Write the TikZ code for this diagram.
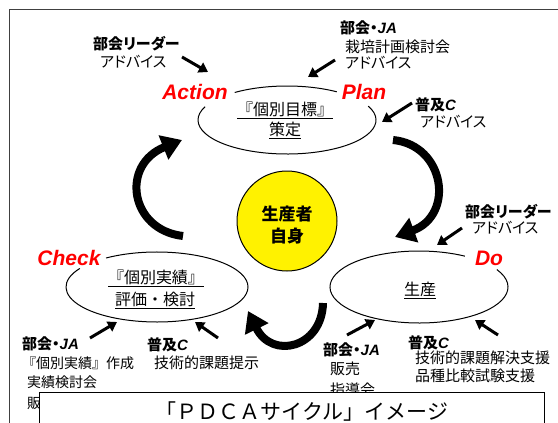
\documentclass[tikz,border=0pt]{standalone}
\usepackage{fontspec}
\usetikzlibrary{arrows.meta}
\newfontfamily\jp[RawFeature={+palt}]{Noto Sans CJK JP}
\newfontfamily\jpn{Noto Sans CJK JP}
\newfontfamily\lat{Liberation Sans}
\tikzset{
  txt/.style={font=\jp\fontsize{15}{17}\selectfont, inner sep=0pt, anchor=west},
  txtn/.style={font=\jpn\fontsize{14}{16}\selectfont, inner sep=0pt, anchor=west},
  btxt/.style={font=\jp\bfseries\fontsize{15}{17}\selectfont, inner sep=0pt, anchor=west},
  elltxt/.style={font=\jpn\fontsize{16}{18}\selectfont, inner sep=0pt},
  pdca/.style={font=\lat\bfseries\itshape\fontsize{21}{24}\selectfont, text=red, inner sep=0pt},
  sarr/.style={line width=3pt, -{Triangle[length=9pt,width=11pt]}},
  barr/.style={line width=8pt, -{Triangle[length=20pt,width=25pt]}},
  ell/.style={line width=1pt},
}
\newcommand{\latbi}[1]{{\lat\bfseries\itshape #1}}
\begin{document}
\begin{tikzpicture}[x=1pt,y=-1pt]
\useasboundingbox (0,0) rectangle (558,423);
\fill[white] (0,0) rectangle (558,423);
% outer frame
\draw[black!75, line width=1pt] (9.5,423) -- (9.5,9.5) -- (558,9.5);

% ---------- ellipses ----------
\coordinate (eP) at (287,120);
\coordinate (eC) at (157,287);
\coordinate (eD) at (419,287);
\draw[ell] (eP) ++(234:89 and 34) arc[start angle=234, end angle=304, x radius=89, y radius=34];
\draw[ell] (eP) ++(-24:89 and 34) arc[start angle=-24, end angle=203, x radius=89, y radius=34];
\draw[ell] (eC) ++(236:91 and 35) arc[start angle=236, end angle=572, x radius=91, y radius=35];
\draw[ell] (eD) ++(331:89 and 36) arc[start angle=331, end angle=661, x radius=89, y radius=36];

\node[elltxt] (pt1) at (285,110) {\underline{『個別目標』}};
\node[elltxt] (pt2) at (285,130) {\underline{策定}};
\node[elltxt] (ct1) at (156,278) {\underline{『個別実績』}};
\node[elltxt] (ct2) at (155,300) {\underline{評価・検討}};
\node[elltxt] (dt1) at (420,290) {\underline{生産}};

% ---------- PDCA labels ----------
\node[pdca] (act) at (195,92) {Action};
\node[pdca] (pla) at (364,92) {Plan};
\node[pdca] (chk) at (69,258) {Check};
\node[pdca] (do) at (489,258) {Do};

% ---------- centre circle ----------
\node[circle, fill=yellow, draw=black, line width=1pt, minimum size=100pt, inner sep=0pt] (me) at (287,221) {};
\node[font=\jp\bfseries\fontsize{17}{20}\selectfont, inner sep=0pt] (me1) at (287,214) {生産者};
\node[font=\jp\bfseries\fontsize{17}{20}\selectfont, inner sep=0pt] (me2) at (287,236) {自身};

% ---------- big cycle arrows ----------
\coordinate (L0) at (183,236);
\coordinate (L1) at (182,140);
\draw[barr] (L0) .. controls (130,230) and (120,165) .. (L1);
\coordinate (R0) at (393,140);
\coordinate (R1) at (395,237);
\draw[barr] (R0) .. controls (445,145) and (455,215) .. (R1);
\coordinate (B0) at (323,303);
\coordinate (B1) at (248,311);
\draw[barr] (B0) .. controls (322,348) and (272,360) .. (B1);

% ---------- texts: top left ----------
\node[btxt] (tl1) at (93,44) {部会リーダー};
\node[txt] (tl2) at (100,62) {アドバイス};
\coordinate (a1s) at (182,57); \coordinate (a1e) at (208,72);
\draw[sarr] (a1s) -- (a1e);

% top right
\node[btxt] (tr1) at (340,28) {部会・\latbi{JA}};
\node[txt] (tr2) at (345,47) {栽培計画検討会};
\node[txt] (tr3) at (345,63) {アドバイス};
\coordinate (a2s) at (335,60); \coordinate (a2e) at (308,77);
\draw[sarr] (a2s) -- (a2e);

\node[btxt] (tr4) at (415,105) {普及\latbi{C}};
\node[txt] (tr5) at (420,122) {アドバイス};
\coordinate (a3s) at (412,103); \coordinate (a3e) at (382,122);
\draw[sarr] (a3s) -- (a3e);

% right middle
\node[btxt] (rm1) at (465,212) {部会リーダー};
\node[txt] (rm2) at (472,228) {アドバイス};
\coordinate (a4s) at (462,228); \coordinate (a4e) at (437,245);
\draw[sarr] (a4s) -- (a4e);

% bottom left
\node[btxt] (bl1) at (22,344) {部会・\latbi{JA}};
\node[txtn] (bl2) at (22,363) {『個別実績』作成};
\node[txtn] (bl3) at (27,382) {実績検討会};
\node[txtn] (bl4) at (27,403) {販売};
\coordinate (a5s) at (90,338); \coordinate (a5e) at (117,322);
\draw[sarr] (a5s) -- (a5e);

\node[btxt] (bl5) at (147,345) {普及\latbi{C}};
\node[txt] (bl6) at (154,363) {技術的課題提示};
\coordinate (a6s) at (218,338); \coordinate (a6e) at (195,322);
\draw[sarr] (a6s) -- (a6e);

% bottom right
\node[btxt] (br1) at (323,350) {部会・\latbi{JA}};
\node[txt] (br2) at (330,369) {販売};
\node[txt] (br3) at (330,390) {指導会};
\coordinate (a7s) at (347,335); \coordinate (a7e) at (375,320);
\draw[sarr] (a7s) -- (a7e);

\node[btxt] (br4) at (408,343) {普及\latbi{C}};
\node[txt] (br5) at (415,358) {技術的課題解決支援};
\node[txt] (br6) at (415,376) {品種比較試験支援};
\coordinate (a8s) at (498,335); \coordinate (a8e) at (475,320);
\draw[sarr] (a8s) -- (a8e);

% ---------- caption box ----------
\fill[white] (39,392) rectangle (544,423);
\draw[line width=1pt] (39,423) -- (39,392) -- (544,392) -- (544,423);
\node[font=\jpn\fontsize{21}{24}\selectfont, inner sep=0pt] (cap) at (302,412) {「ＰＤＣＡサイクル」イメージ};
\end{tikzpicture}
\end{document}
